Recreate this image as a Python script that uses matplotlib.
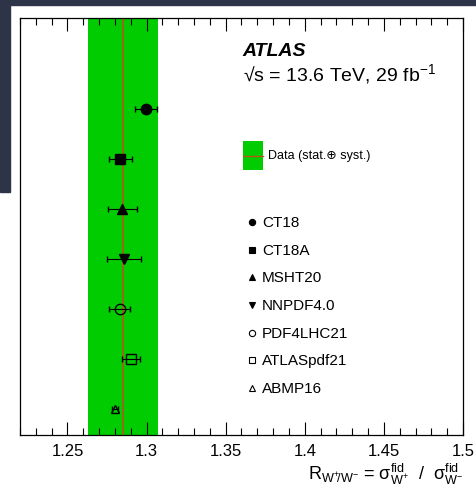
import matplotlib
matplotlib.use("Agg")
import matplotlib.pyplot as plt
from matplotlib.patches import Rectangle
from matplotlib.ticker import MultipleLocator

plt.rcParams['font.family'] = ['Liberation Sans', 'DejaVu Sans']
plt.rcParams['mathtext.fontset'] = 'custom'
plt.rcParams['mathtext.rm'] = 'Liberation Sans'
plt.rcParams['mathtext.it'] = 'Liberation Sans:italic'

# measured ratio and its total uncertainty
data_val = 1.285
data_err = 0.022

# predictions, top to bottom
pdf_names = ["CT18", "CT18A", "MSHT20", "NNPDF4.0", "PDF4LHC21", "ATLASpdf21", "ABMP16"]
pdf_vals = [1.2998, 1.2835, 1.2847, 1.2857, 1.2831, 1.2904, 1.2799]
pdf_errs = [0.0070, 0.0070, 0.0092, 0.0107, 0.0067, 0.0057, 0.0020]
pdf_markers = ["o", "s", "^", "v", "o", "s", "^"]
pdf_filled = [True, True, True, True, False, False, False]

green = "#00cc00"
line_red = "#b5541c"

fig = plt.figure(figsize=(4.77, 4.89), dpi=100)
fig.patch.set_facecolor("white")
# dark slide background peeking in at top-left
fig.patches.append(Rectangle((0, 1 - 6 / 489), 1, 6 / 489, transform=fig.transFigure,
                             color="#2e3447", zorder=0))
fig.patches.append(Rectangle((0, 1 - 193 / 489), 10 / 477, 193 / 489, transform=fig.transFigure,
                             color="#2e3447", zorder=0))

ax = fig.add_axes([20 / 477, 1 - 436 / 489, 443 / 477, 417 / 489])

ax.axvspan(data_val - data_err, data_val + data_err, color=green, lw=0, zorder=1)
ax.axvline(data_val, color=line_red, lw=1.2, zorder=2)

n = len(pdf_names)
for i in range(n):
    y = n - 1 - i
    ms = 7.5 if i < 6 else 6
    ax.errorbar(pdf_vals[i], y, xerr=pdf_errs[i], fmt=pdf_markers[i], ms=ms,
                mfc="black" if pdf_filled[i] else "none", mec="black", mew=1,
                ecolor="black", elinewidth=0.8, capsize=2.5, capthick=0.8, zorder=3)

ax.set_xlim(1.22, 1.5)
ax.set_ylim(-0.52, 7.82)
ax.set_yticks([])
ax.xaxis.set_major_locator(MultipleLocator(0.05))
ax.xaxis.set_minor_locator(MultipleLocator(0.01))
ax.set_xticks([1.25, 1.3, 1.35, 1.4, 1.45, 1.5])
ax.set_xticklabels(["1.25", "1.3", "1.35", "1.4", "1.45", "1.5"])
ax.tick_params(axis="x", which="both", direction="in", top=True, labelsize=12, pad=6)
ax.tick_params(axis="x", which="major", length=9.5, width=0.8)
ax.tick_params(axis="x", which="minor", length=5, width=0.8)
for s in ax.spines.values():
    s.set_linewidth(0.9)

fig.text(463 / 477, 1 - 474 / 489,
         r"$\mathrm{R_{W^{+}\!/W^{-}}}$ = $\mathrm{\sigma^{fid}_{W^{+}}}$  /  $\mathrm{\sigma^{fid}_{W^{-}}}$",
         fontsize=13, ha="right", va="center")

ax.text(0.503, 0.923, "ATLAS", transform=ax.transAxes, fontsize=14,
        fontweight="bold", fontstyle="italic", va="center")
ax.text(0.503, 0.868, "√s = 13.6 TeV, 29 fb$^{-1}$", transform=ax.transAxes,
        fontsize=14, va="center")

# data legend entry
ax.add_patch(Rectangle((0.503, 0.635), 0.046, 0.07, transform=ax.transAxes,
                       color=green, lw=0, zorder=4))
ax.plot([0.503, 0.549], [0.670, 0.670], transform=ax.transAxes, color=line_red, lw=1, zorder=5)
ax.text(0.560, 0.672, "Data (stat.⊕ syst.)", transform=ax.transAxes, fontsize=9, va="center")

# prediction legend
for i in range(n):
    yl = 0.511 - i * 0.0664
    ax.plot([0.524], [yl], transform=ax.transAxes, marker=pdf_markers[i], ms=4.5,
            mfc="black" if pdf_filled[i] else "none", mec="black", mew=0.8, ls="none")
    ax.text(0.546, yl, pdf_names[i], transform=ax.transAxes, fontsize=11, va="center")

fig.savefig("out.png", dpi=100)
